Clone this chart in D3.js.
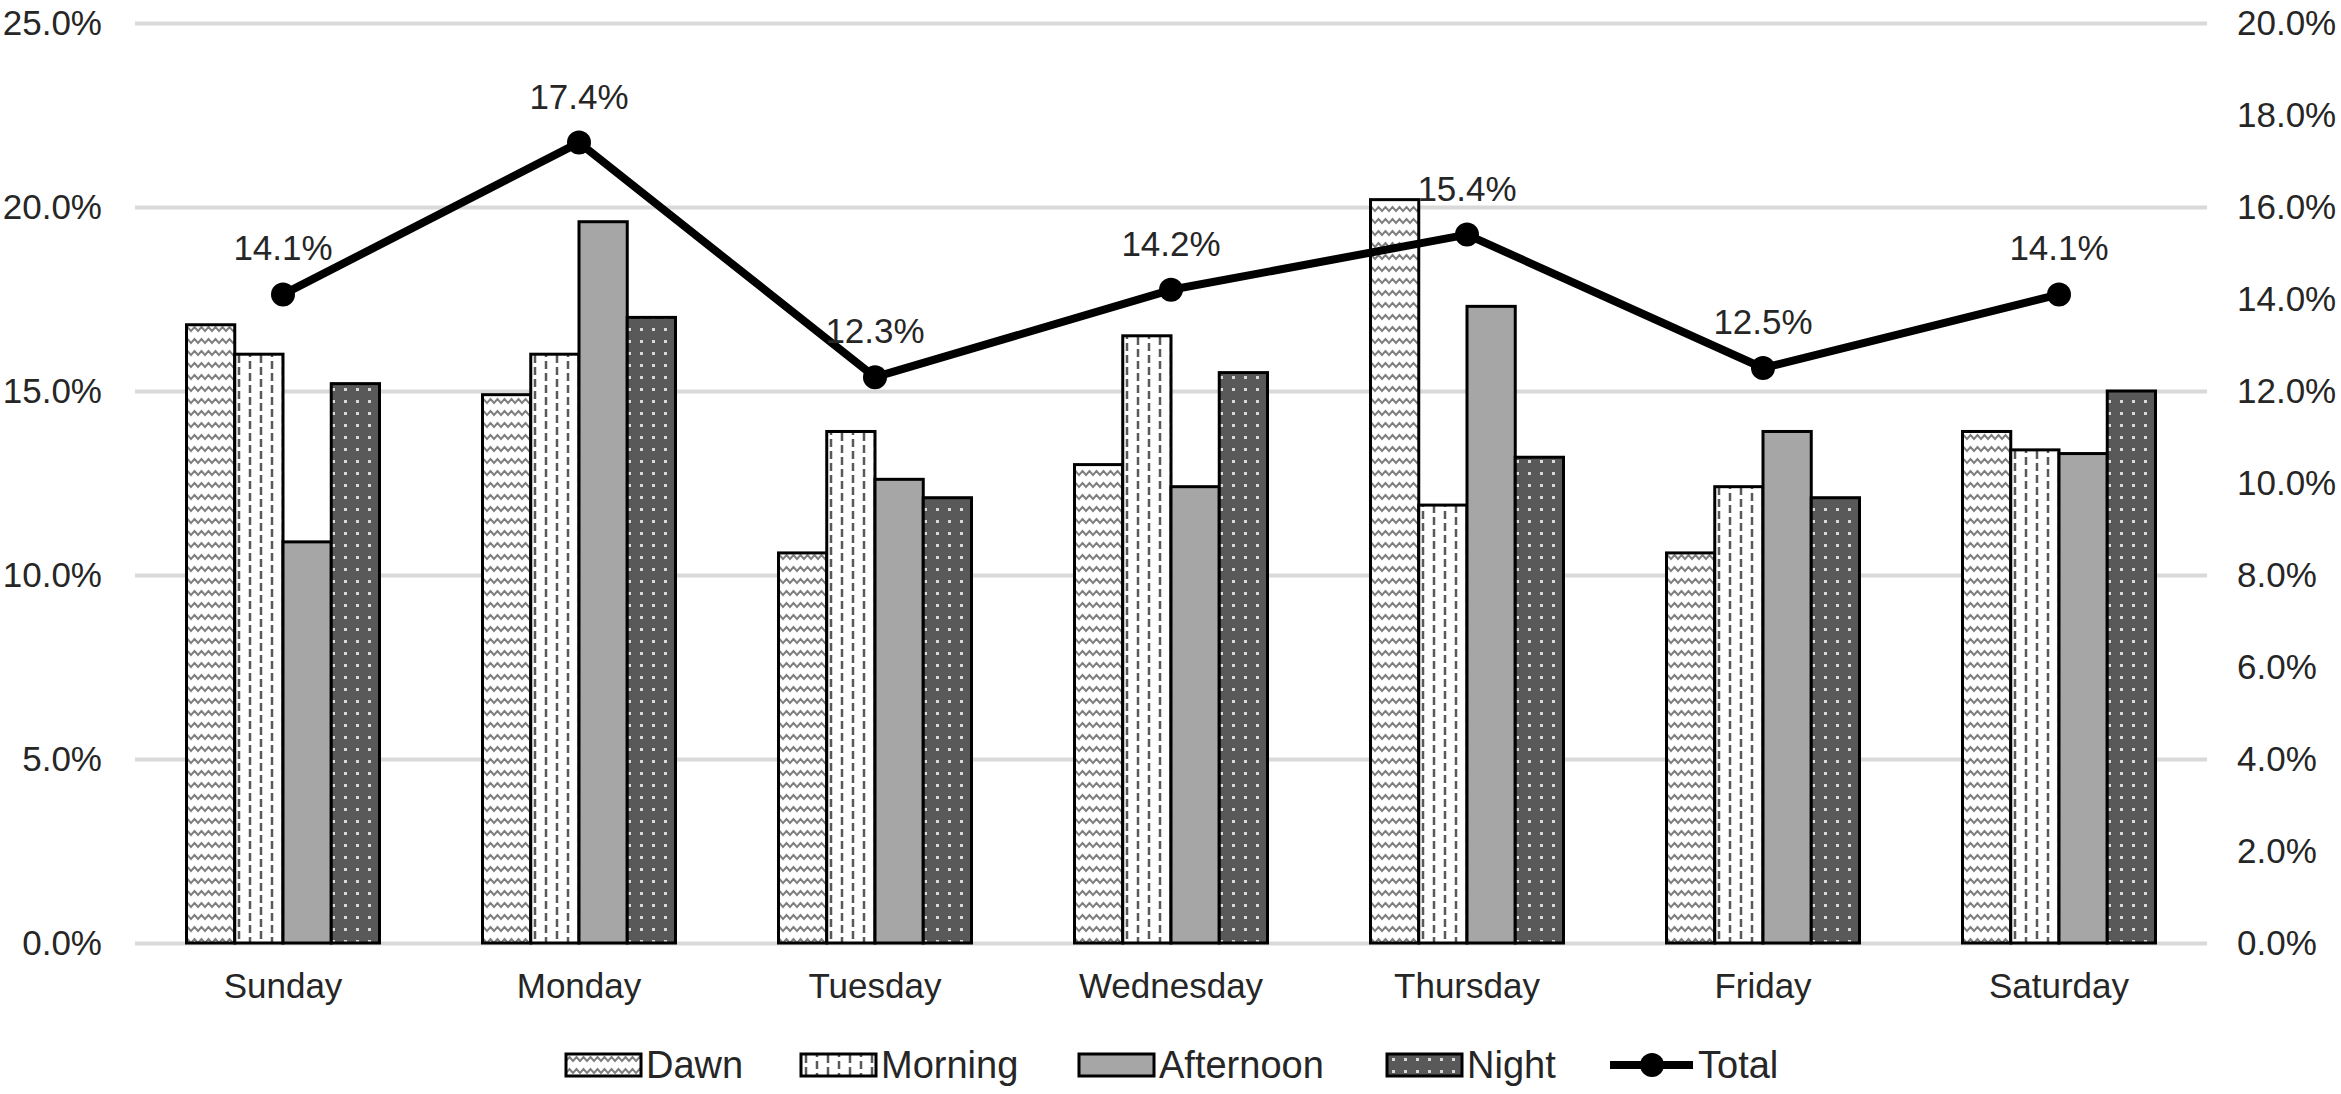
<!DOCTYPE html>
<html>
<head>
<meta charset="utf-8">
<script src="https://cdn.jsdelivr.net/npm/d3@7"></script>
<style>
  body { margin: 0; background: #fff; }
  text { font-family: "Liberation Sans", Arial, sans-serif; fill: #262626; }
</style>
</head>
<body>
<div id="chart"></div>
<script>
// data
const days = ["Sunday", "Monday", "Tuesday", "Wednesday", "Thursday", "Friday", "Saturday"];
const seriesNames = ["Dawn", "Morning", "Afternoon", "Night"];
const dawn = [16.8, 14.9, 10.6, 13.0, 20.2, 10.6, 13.9];
const morning = [16.0, 16.0, 13.9, 16.5, 11.9, 12.4, 13.4];
const afternoon = [10.9, 19.6, 12.6, 12.4, 17.3, 13.9, 13.3];
const night = [15.2, 17.0, 12.1, 15.5, 13.2, 12.1, 15.0];
const total = [14.1, 17.4, 12.3, 14.2, 15.4, 12.5, 14.1];
const leftTicks = [0, 5, 10, 15, 20, 25];
const rightTicks = [0, 2, 4, 6, 8, 10, 12, 14, 16, 18, 20];

const W = 2341, H = 1094;
const margin = { top: 23, right: 134, bottom: 151, left: 135 };
const width = W - margin.left - margin.right;
const height = H - margin.top - margin.bottom;

const svg = d3.select("#chart").append("svg")
  .attr("width", W)
  .attr("height", H);

// patterns
const defs = svg.append("defs");

const pDawn = defs.append("pattern")
  .attr("id", "p-dawn")
  .attr("patternUnits", "userSpaceOnUse")
  .attr("width", 14).attr("height", 12);
pDawn.append("rect").attr("width", 14).attr("height", 12).attr("fill", "#fff");
pDawn.append("path")
  .attr("d", "M-3.5,4 L0,8 L3.5,4 L7,8 L10.5,4 L14,8 L17.5,4")
  .attr("fill", "none").attr("stroke", "#7f7f7f").attr("stroke-width", 2);

const pMorning = defs.append("pattern")
  .attr("id", "p-morning")
  .attr("patternUnits", "userSpaceOnUse")
  .attr("width", 22).attr("height", 24);
pMorning.append("rect").attr("width", 22).attr("height", 24).attr("fill", "#fff");
pMorning.append("path")
  .attr("d", "M5,2 V10 M5,14 V22 M16,8 V16 M16,20 V28 M16,-4 V4")
  .attr("fill", "none").attr("stroke", "#595959").attr("stroke-width", 2.5);

const pNight = defs.append("pattern")
  .attr("id", "p-night")
  .attr("patternUnits", "userSpaceOnUse")
  .attr("width", 12).attr("height", 12);
pNight.append("rect").attr("width", 12).attr("height", 12).attr("fill", "#595959");
pNight.append("rect").attr("x", 5).attr("y", 5).attr("width", 3).attr("height", 3).attr("fill", "#d9d9d9");

const fills = {
  Dawn: "url(#p-dawn)",
  Morning: "url(#p-morning)",
  Afternoon: "#a6a6a6",
  Night: "url(#p-night)"
};

const g = svg.append("g")
  .attr("transform", `translate(${margin.left},${margin.top})`);

// scales
const x0 = d3.scaleBand().domain(days).range([0, width]).padding(0);
const groupPad = (x0.bandwidth() - 193) / 2;
const x1 = d3.scaleBand().domain(seriesNames).range([groupPad, x0.bandwidth() - groupPad]).padding(0);
const yL = d3.scaleLinear().domain([0, 25]).range([height, 0]);
const yR = d3.scaleLinear().domain([0, 20]).range([height, 0]);

// gridlines
g.append("g")
  .attr("class", "grid")
  .call(d3.axisLeft(yL).tickValues(leftTicks).tickSize(-width).tickFormat(""))
  .call(s => s.select(".domain").remove())
  .call(s => s.selectAll("line").attr("stroke", "#d9d9d9").attr("stroke-width", 4));

// left axis
g.append("g")
  .call(d3.axisLeft(yL).tickValues(leftTicks).tickSize(0).tickPadding(33)
    .tickFormat(d => d.toFixed(1) + "%"))
  .call(s => s.select(".domain").remove())
  .selectAll("text")
  .style("font-size", "35px");

// right axis
g.append("g")
  .attr("transform", `translate(${width},0)`)
  .call(d3.axisRight(yR).tickValues(rightTicks).tickSize(0).tickPadding(30)
    .tickFormat(d => d.toFixed(1) + "%"))
  .call(s => s.select(".domain").remove())
  .selectAll("text")
  .style("font-size", "35px");

// x axis
g.append("g")
  .attr("transform", `translate(0,${height})`)
  .call(d3.axisBottom(x0).tickSize(0).tickPadding(30))
  .call(s => s.select(".domain").remove())
  .selectAll("text")
  .style("font-size", "35px");

// bars
const table = days.map((d, i) => ({
  day: d,
  Dawn: dawn[i], Morning: morning[i], Afternoon: afternoon[i], Night: night[i],
  Total: total[i]
}));

g.selectAll("g.day")
  .data(table)
  .enter()
  .append("g")
  .attr("class", "day")
  .attr("transform", d => `translate(${x0(d.day)},0)`)
  .selectAll("rect")
  .data(d => seriesNames.map(k => ({ key: k, value: d[k] })))
  .enter()
  .append("rect")
  .attr("x", d => x1(d.key))
  .attr("y", d => yL(d.value))
  .attr("width", x1.bandwidth())
  .attr("height", d => height - yL(d.value))
  .attr("fill", d => fills[d.key])
  .attr("stroke", "#000")
  .attr("stroke-width", 3);

// total line
const cx = d => x0(d.day) + x0.bandwidth() / 2;
const line = d3.line()
  .x(cx)
  .y(d => yR(d.Total));

g.append("path")
  .datum(table)
  .attr("fill", "none")
  .attr("stroke", "#000")
  .attr("stroke-width", 8)
  .attr("stroke-linejoin", "round")
  .attr("d", line);

g.selectAll("circle.total")
  .data(table)
  .enter()
  .append("circle")
  .attr("class", "total")
  .attr("cx", cx)
  .attr("cy", d => yR(d.Total))
  .attr("r", 12)
  .attr("fill", "#000");

g.selectAll("text.lbl")
  .data(table)
  .enter()
  .append("text")
  .attr("class", "lbl")
  .attr("x", cx)
  .attr("y", d => yR(d.Total) - 34)
  .attr("text-anchor", "middle")
  .style("font-size", "35px")
  .text(d => d.Total.toFixed(1) + "%");

// legend
const legendItems = seriesNames.concat(["Total"]);
const legendX = [566, 801, 1079, 1387, 1610];
const legendY = 1065;
const legend = svg.append("g");

legendItems.forEach((k, i) => {
  const lg = legend.append("g").attr("transform", `translate(${legendX[i]},${legendY})`);
  if (k === "Total") {
    lg.append("line")
      .attr("x1", 0).attr("x2", 83).attr("y1", 0).attr("y2", 0)
      .attr("stroke", "#000").attr("stroke-width", 8);
    lg.append("circle").attr("cx", 42).attr("cy", 0).attr("r", 12).attr("fill", "#000");
    lg.append("text").attr("x", 88).attr("y", 0).attr("dy", "0.35em")
      .style("font-size", "38px").text(k);
  } else {
    lg.append("rect")
      .attr("x", 0).attr("y", -11).attr("width", 75).attr("height", 22)
      .attr("fill", fills[k]).attr("stroke", "#000").attr("stroke-width", 3);
    lg.append("text").attr("x", 80).attr("y", 0).attr("dy", "0.35em")
      .style("font-size", "38px").text(k);
  }
});
</script>
</body>
</html>
